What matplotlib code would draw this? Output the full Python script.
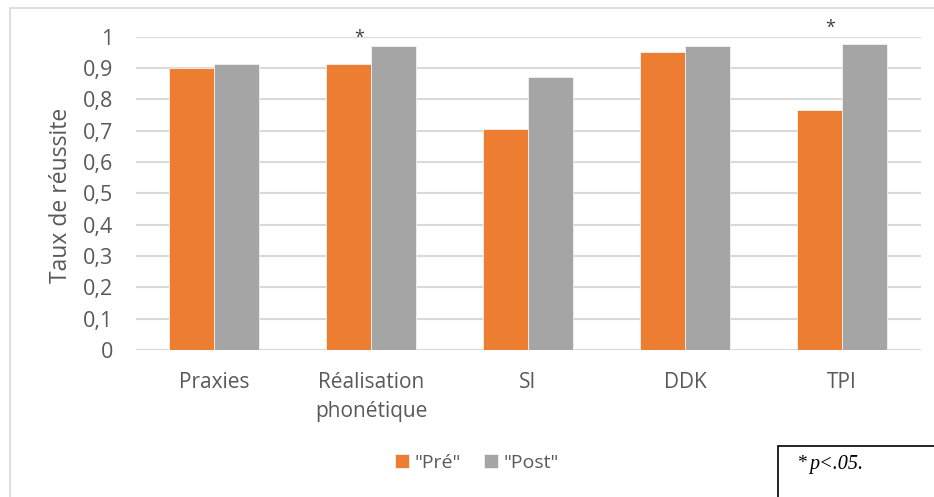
import numpy as np
import matplotlib
matplotlib.use("Agg")
import matplotlib.pyplot as plt
from matplotlib.patches import Rectangle

# donnees
categories = ["Praxies", "Réalisation\nphonétique", "SI", "DDK", "TPI"]
pre = [0.900, 0.912, 0.705, 0.952, 0.766]
post = [0.914, 0.971, 0.871, 0.969, 0.978]
series = ['"Pré"', '"Post"']
etoiles = [None, 0.996, None, None, 1.028]   # position des * (p<.05)

W, H = 934, 497
plt.rcParams['font.family'] = ['Open Sans', 'DejaVu Sans']
gris_txt = '#595959'

fig = plt.figure(figsize=(W / 100, H / 100), dpi=100)

# cadre du graphique
fig.patches.append(Rectangle((9.5 / W, -0.1), 1.2, 1.1 - 8 / H, transform=fig.transFigure,
                             fill=False, edgecolor='#D9D9D9', linewidth=1.2))

ax = fig.add_axes([135.6 / W, (H - 350) / H, 785 / W, 313.3 / H])

x = np.arange(len(categories))
w = 0.287
ax.bar(x - w / 2, pre, w, color='#ED7D31', edgecolor='#F2F2F2', linewidth=0.6, label=series[0], zorder=3)
ax.bar(x + w / 2, post, w, color='#A5A5A5', edgecolor='#F2F2F2', linewidth=0.6, label=series[1], zorder=3)

for i, e in enumerate(etoiles):
    if e is not None:
        ax.text(i - 0.075, e, '*', ha='center', va='center', fontsize=13, color='#404040', clip_on=False)

ax.set_xlim(-0.5, len(categories) - 0.5)
ax.set_ylim(0, 1)
ax.set_yticks(np.arange(0, 1.01, 0.1))
ax.set_yticklabels(['0'] + [f"{v:.1f}".replace('.', ',') for v in np.arange(0.1, 0.95, 0.1)] + ['1'])
ax.set_xticks(x)
ax.set_xticklabels(categories, linespacing=1.5)
ax.tick_params(axis='y', length=0, pad=16, labelsize=15.5, labelcolor=gris_txt)
ax.tick_params(axis='x', length=0, pad=16, labelsize=15, labelcolor=gris_txt)
ax.grid(axis='y', color='#D9D9D9', linewidth=1.5, zorder=0)
ax.set_axisbelow(True)
for s in ax.spines.values():
    s.set_visible(False)

fig.text(61 / W, 1 - 195 / H, 'Taux de réussite', rotation=90, ha='center', va='center',
         fontsize=16.5, color=gris_txt)

fig.legend(loc='center', bbox_to_anchor=(477 / W, 1 - 463 / H), ncol=2, frameon=False,
           fontsize=14, handlelength=0.7, handleheight=0.7, handletextpad=0.3, columnspacing=1.2,
           labelcolor=gris_txt)

# encadre p<.05
fig.patches.append(Rectangle((778 / W, -0.1), 0.5, 0.1 + (H - 446) / H, transform=fig.transFigure,
                             fill=False, edgecolor='black', linewidth=1.2))
fig.text(797 / W, 1 - 464 / H, '*', ha='left', va='center', fontsize=14,
         family='Liberation Serif', color='black')
fig.text(809 / W, 1 - 464 / H, 'p<.05.', ha='left', va='center', fontsize=14.5,
         family='Liberation Serif', style='italic', color='black')

fig.savefig('out.png', dpi=100)
